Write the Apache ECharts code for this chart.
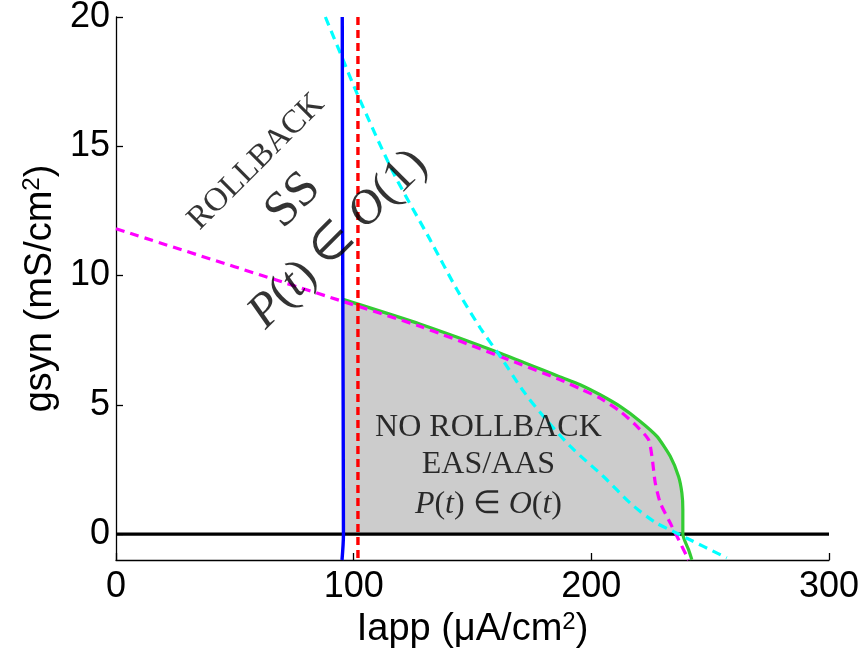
<!DOCTYPE html>
<html>
<head>
<meta charset="utf-8">
<script src="https://cdn.jsdelivr.net/npm/echarts@6/dist/echarts.min.js"></script>
<style>html,body{margin:0;padding:0;background:#fff}#c{width:865px;height:656px}</style>
</head>
<body>
<div id="c"></div>
<script>
// ---- data ----
const xTicks = [0, 100, 200, 300];
const yTicks = [0, 5, 10, 15, 20];
const blueCurve = [[95.2, 20], [95.4, 10], [95.7, 0], [95.1, -1]];
const redCurve = [[101.8, 20], [101.8, -1]];
const zeroLine = [[0, 0], [300, 0]];
const greenCurve = [[95.5, 9.08], [128.1, 8.12], [161.7, 7.0], [186.9, 6.08], [195.3, 5.78], [203.7, 5.39],
  [212.1, 4.94], [220.6, 4.36], [227.6, 3.78], [233.2, 3.01], [236.7, 2.23], [238.1, 1.59], [238.5, 0.95],
  [238.5, 0], [240.9, -0.6], [242.3, -0.99]];
const magentaCurve = [[0, 11.81], [95.5, 9.0], [128.1, 8.03], [161.7, 6.87], [186.9, 5.97], [195.3, 5.62],
  [203.7, 5.26], [212.1, 4.75], [219.2, 4.17], [224.1, 3.65], [225.5, 3.01], [226.9, 1.98], [229.0, 1.21],
  [233.2, 0.43], [236.7, -0.21], [240.2, -0.86], [240.9, -1]];
const cyanCurve = [[88.1, 20], [94.4, 18.6], [101.4, 17.05], [116.8, 13.96], [132.2, 11.38], [143.5, 9.45],
  [153.3, 7.97], [161.7, 6.87], [171.5, 5.52], [179.9, 4.55], [191.2, 3.39], [205.1, 2.23], [217.0, 1.15],
  [227.0, 0.45], [234.6, 0.1], [240.0, -0.15], [257.0, -0.92]];
const regionFill = greenCurve.filter(p => p[1] >= 0);
const annotationAnchors = [[59.0, 14.4], [74.6, 12.9], [93.6, 11.4], [156.7, 4.14], [156.7, 2.69], [156.7, 1.14]];
const annotationTexts = [
  '{r|ROLLBACK}',
  '{b|SS}',
  '{bi|P}{br|(}{bi|t}{br|) ∈ }{bi|O}{br|(1)}',
  '{m|NO ROLLBACK}',
  '{m|EAS/AAS}',
  '{mi|P}{m|(}{mi|t}{m|) ∈ }{mi|O}{m|(}{mi|t}{m|)}'
];
const annotationRotate = [45, 45, 45, 0, 0, 0];

const serif = 'Liberation Serif';
const richStyles = {
  r: {fontFamily: serif, fontSize: 33, color: '#000'},
  b: {fontFamily: serif, fontSize: 50, color: '#000'},
  bi: {fontFamily: serif, fontSize: 48, fontStyle: 'italic', color: '#000'},
  br: {fontFamily: serif, fontSize: 48, color: '#000'},
  m: {fontFamily: serif, fontSize: 32, color: '#000'},
  mi: {fontFamily: serif, fontSize: 32, fontStyle: 'italic', color: '#000'}
};

const chart = echarts.init(document.getElementById('c'), null, {renderer: 'canvas'});
const tickFont = {fontFamily: 'Liberation Sans', fontSize: 36, color: '#000'};
const nameFont = {fontFamily: 'Liberation Sans', fontSize: 38, color: '#000',
  rich: {sup: {fontFamily: 'Liberation Sans', fontSize: 24, verticalAlign: 'top', padding: [0, 0, 16, 0], color: '#000'}}};
chart.setOption({
  animation: false,
  backgroundColor: '#fff',
  grid: {left: 116, right: 36, top: 17, bottom: 96, containLabel: false, outerBoundsMode: 'none'},
  xAxis: {
    type: 'value', min: 0, max: 300, interval: 100,
    name: 'Iapp (μA/cm{sup|2})', nameLocation: 'middle', nameGap: 48,
    nameTextStyle: nameFont,
    axisLine: {show: true, onZero: false, lineStyle: {color: '#000', width: 1.3}},
    axisTick: {show: true, inside: true, length: 7, lineStyle: {color: '#000', width: 1.3}, customValues: xTicks},
    axisLabel: Object.assign({margin: 9, customValues: xTicks}, tickFont),
    splitLine: {show: false}
  },
  yAxis: {
    type: 'value', min: -1, max: 20,
    name: 'gsyn (mS/cm{sup|2})', nameLocation: 'middle', nameGap: 54,
    nameTextStyle: nameFont,
    axisLine: {show: true, onZero: false, lineStyle: {color: '#000', width: 1.3}},
    axisTick: {show: true, inside: true, length: 7, lineStyle: {color: '#000', width: 1.3}, customValues: yTicks},
    axisLabel: Object.assign({margin: 6, customValues: yTicks}, tickFont),
    splitLine: {show: false}
  },
  series: [
    {type: 'line', data: regionFill, symbol: 'none', smooth: 0.2, lineStyle: {width: 0, opacity: 0},
      areaStyle: {color: '#cccccc', opacity: 1, origin: 0}, z: 1},
    {type: 'line', data: zeroLine, symbol: 'none', lineStyle: {color: '#000', width: 3.2}, z: 2},
    {type: 'line', data: greenCurve, symbol: 'none', smooth: 0.2, lineStyle: {color: '#33cc33', width: 3.2}, z: 3},
    {type: 'line', data: magentaCurve, symbol: 'none', smooth: 0.2, lineStyle: {color: '#ff00ff', width: 3.2, type: [9, 6]}, z: 4},
    {type: 'line', data: cyanCurve, symbol: 'none', smooth: 0.3, lineStyle: {color: '#00ffff', width: 3.2, type: [9, 6]}, z: 5},
    {type: 'line', data: blueCurve, symbol: 'none', smooth: 0.3, lineStyle: {color: '#0000ff', width: 3.4}, z: 6},
    {type: 'line', data: redCurve, symbol: 'none', lineStyle: {color: '#ff0000', width: 3.4, type: [8, 5]}, z: 7},
    {type: 'scatter', symbolSize: 0, z: 10, silent: true,
      data: annotationAnchors.map((p, i) => ({
        value: p,
        label: {show: true, position: 'inside', rotate: annotationRotate[i], color: '#000',
          textBorderWidth: 0, formatter: annotationTexts[i], rich: richStyles}
      }))}
  ]
});
</script>
</body>
</html>
